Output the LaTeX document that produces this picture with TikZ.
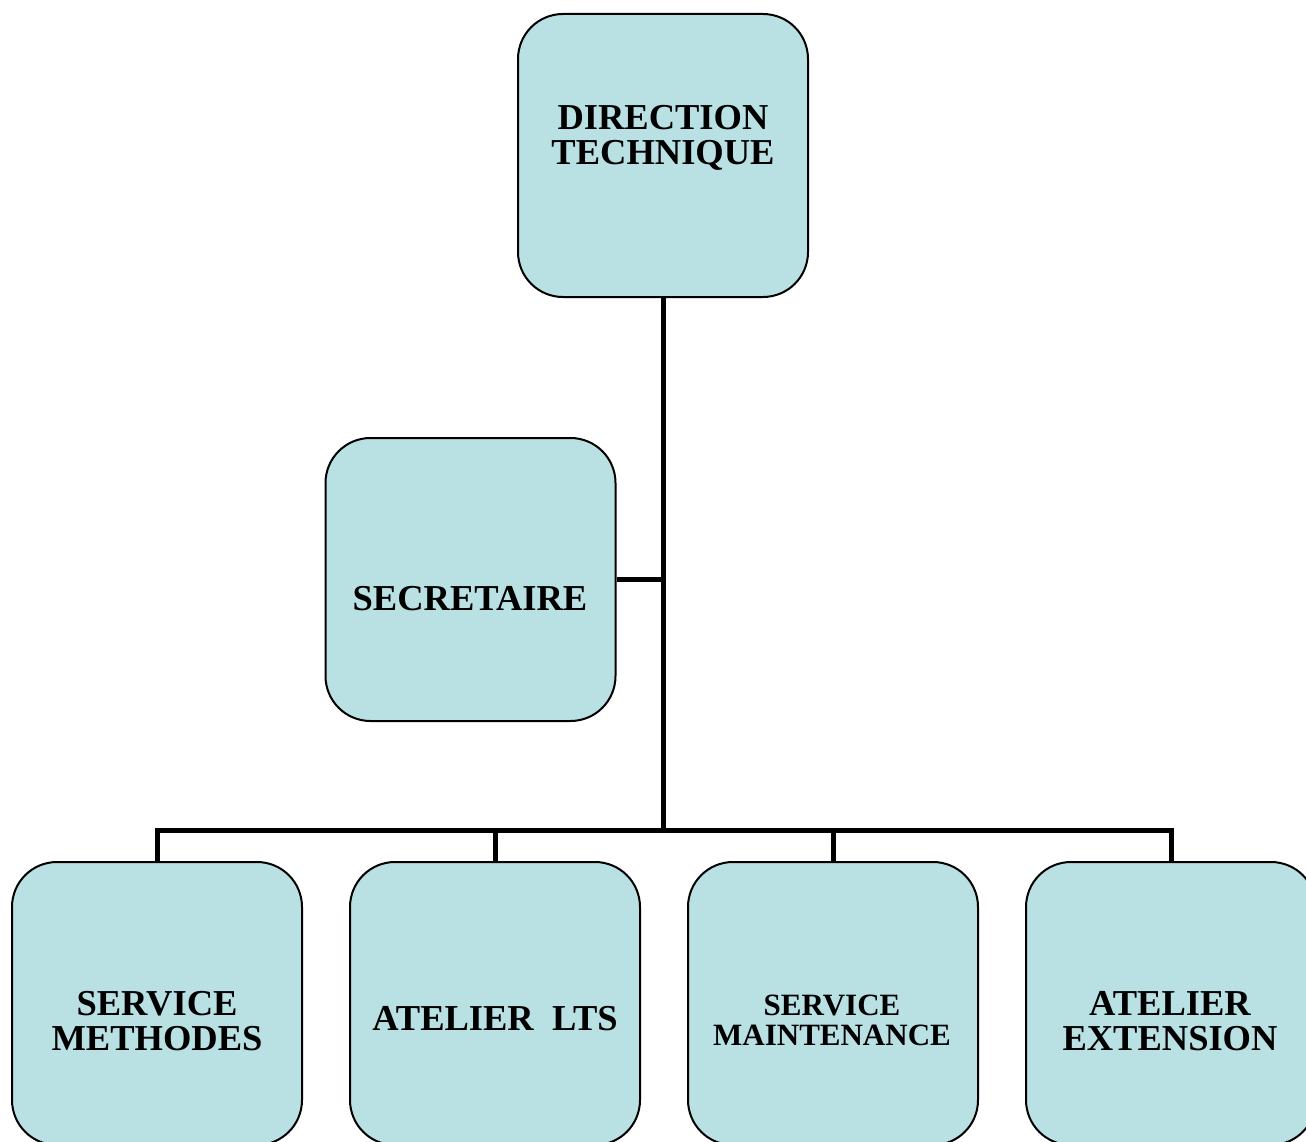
\documentclass[tikz,border=0pt]{standalone}
\usepackage{fontspec}
\setmainfont{Liberation Serif}
\definecolor{boxfill}{RGB}{185,224,227}
\begin{document}
\begin{tikzpicture}[x=1pt,y=-1pt,
  orgbox/.style={draw=black, line width=2pt, fill=boxfill, rounded corners=45pt,
    minimum width=290pt, minimum height=283pt, inner sep=0pt},
  lbl/.style={font=\bfseries\fontsize{36.5}{35}\selectfont, align=center, inner sep=0pt},
  lblsmall/.style={font=\bfseries\fontsize{31}{30}\selectfont, align=center, inner sep=0pt},
  conn/.style={line width=5pt, line join=miter, line cap=butt}]
\useasboundingbox (0,0) rectangle (1306,1142);
\clip (0,0) rectangle (1306,1142);
% boxes
\node[orgbox] (dt)  at (663,155.5) {};
\node[orgbox] (sec) at (470.5,579.5) {};
\node[orgbox] (sm)  at (157,1003.5) {};
\node[orgbox] (lts) at (495,1003.5) {};
\node[orgbox] (mt)  at (833,1003.5) {};
\node[orgbox] (ext) at (1171,1003.5) {};
% connectors
\coordinate (hub) at (663,830);
\draw[conn] (dt.south) -- (hub);
\draw[conn] (sec.east) -- (sec.east -| hub);
\draw[conn] (sm.north) |- (hub) -| (ext.north);
\draw[conn] (lts.north) -- (lts.north |- hub);
\draw[conn] (mt.north) -- (mt.north |- hub);
% labels
\node[lbl] (tdt) at (663,138) {DIRECTION\\TECHNIQUE};
\node[lbl] (tsec) at (470,599) {SECRETAIRE};
\node[lbl] (tsm) at (157,1021) {SERVICE\\METHODES};
\node[lbl] (tlts) at (495,1019) {ATELIER\ \ LTS};
\node[lblsmall] (tmt) at (832,1020) {SERVICE\\MAINTENANCE};
\node[lbl] (text) at (1170,1021) {ATELIER\\EXTENSION};
\end{tikzpicture}
\end{document}
